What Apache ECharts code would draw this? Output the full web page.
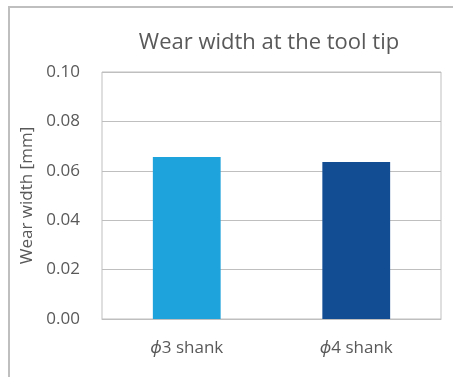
<!DOCTYPE html>
<html>
<head>
<meta charset="utf-8">
<script src="https://cdn.jsdelivr.net/npm/echarts@6/dist/echarts.min.js"></script>
<style>
    html, body { margin: 0; padding: 0; background: #fff; }
    #main { width: 453px; height: 377px; }
</style>
</head>
<body>
<div id="main"></div>
<script>
// 数据
var categories = ['ϕ3 shank', 'ϕ4 shank'];
var wearWidth = [0.0656, 0.0636];
var barColors = ['#1fa3dc', '#124d94'];
var yTicks = [0, 0.02, 0.04, 0.06, 0.08, 0.10];

(function () {
    var myCharts = echarts.init(document.getElementById('main'));
    var font = '"Open Sans", "Noto Sans", sans-serif';

    var option = {
        animation: false,
        textStyle: { fontFamily: font },
        // 外框 (只露出左边和上边)
        graphic: [{
            type: 'rect',
            shape: { x: 9, y: 7, width: 600, height: 600 },
            style: { fill: 'none', stroke: '#bfbfbf', lineWidth: 2 },
            silent: true
        }],
        title: {
            text: 'Wear width at the tool tip',
            left: 264,
            top: 27,
            textAlign: 'center',
            textStyle: { color: '#595959', fontSize: 22, fontWeight: 'normal', fontFamily: font }
        },
        grid: {
            left: 102,
            top: 72,
            right: 12,
            bottom: 58,
            show: true,
            borderColor: '#bfbfbf',
            borderWidth: 1
        },
        xAxis: {
            type: 'category',
            data: categories,
            axisTick: { show: false },
            axisLine: { lineStyle: { color: '#bfbfbf' } },
            axisLabel: {
                color: '#595959',
                fontSize: 17,
                margin: 21,
                formatter: function (v) {
                    return '{i|' + v.charAt(0) + '}' + v.slice(1);
                },
                rich: {
                    i: { fontStyle: 'italic', fontSize: 17, color: '#595959', fontFamily: font }
                }
            }
        },
        yAxis: {
            type: 'value',
            min: yTicks[0],
            max: yTicks[yTicks.length - 1],
            interval: 0.02,
            name: 'Wear width [mm]',
            nameLocation: 'middle',
            nameGap: 64,
            nameTextStyle: { color: '#595959', fontSize: 17 },
            axisLine: { show: false },
            axisTick: { show: false },
            axisLabel: {
                color: '#595959',
                fontSize: 17,
                margin: 22,
                formatter: function (v) { return v.toFixed(2); }
            },
            splitLine: { lineStyle: { color: '#bfbfbf', width: 1 } }
        },
        series: [{
            type: 'bar',
            barWidth: '40%',
            data: wearWidth.map(function (v, i) {
                return { value: v, itemStyle: { color: barColors[i] } };
            })
        }]
    };

    myCharts.setOption(option);
})();
</script>
</body>
</html>
